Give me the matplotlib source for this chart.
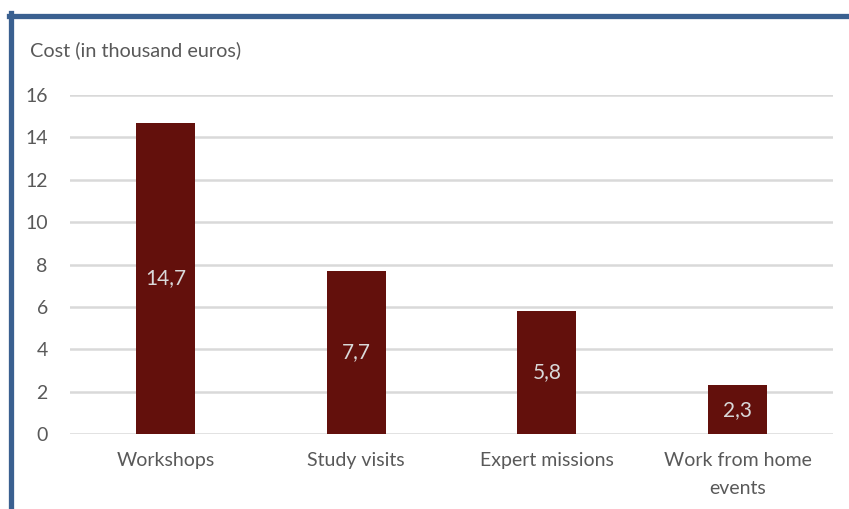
import matplotlib.pyplot as plt
from matplotlib.lines import Line2D

# data
categories = ["Workshops", "Study visits", "Expert missions", "Work from home\nevents"]
costs = [14.7, 7.7, 5.8, 2.3]
value_labels = ["14,7", "7,7", "5,8", "2,3"]
yticks = [0, 2, 4, 6, 8, 10, 12, 14, 16]

W, H = 849, 509
plt.rcParams['font.family'] = ['Lato', 'DejaVu Sans']

fig = plt.figure(figsize=(W / 100, H / 100), dpi=100)
ax = fig.add_axes([70 / W, 1 - 434 / H, (833 - 70) / W, (434 - 95) / H])

bar_col = "#63100C"
text_col = "#595959"
grid_col = "#D9D9D9"

x = range(len(categories))
bars = ax.bar(x, costs, width=0.31, color=bar_col, zorder=3)
for b, lab in zip(bars, value_labels):
    ax.text(b.get_x() + b.get_width() / 2, b.get_height() / 2, lab,
            ha="center", va="center", color="#D9D9D9", fontsize=15, zorder=4)

ax.set_xlim(-0.5, len(categories) - 0.5)
ax.set_ylim(0, 16)
ax.set_yticks(yticks)
ax.set_yticklabels([str(v) for v in yticks])
ax.set_xticks(list(x))
ax.set_xticklabels(categories, linespacing=1.75)
ax.tick_params(axis="y", length=0, pad=16, labelsize=14, labelcolor=text_col)
ax.tick_params(axis="x", length=0, pad=13, labelsize=14, labelcolor=text_col)
for lab in ax.get_yticklabels():
    lab.set_horizontalalignment("right")

ax.grid(axis="y", color=grid_col, linewidth=1.8, zorder=0)
for s in ax.spines.values():
    s.set_visible(False)

fig.text(30 / W, 1 - 50 / H, "Cost (in thousand euros)", ha="left", va="center",
         color=text_col, fontsize=14.3)

# blue frame along the top and left edges
border = "#3A6090"
fig.add_artist(Line2D([10.5 / W, 10.5 / W], [0, 1 - 13 / H], color=border, linewidth=3.8,
                      transform=fig.transFigure))
fig.add_artist(Line2D([8.5 / W, 1], [1 - 15.5 / H, 1 - 15.5 / H], color=border, linewidth=3.8,
                      transform=fig.transFigure))

fig.savefig("out.png", dpi=100)
